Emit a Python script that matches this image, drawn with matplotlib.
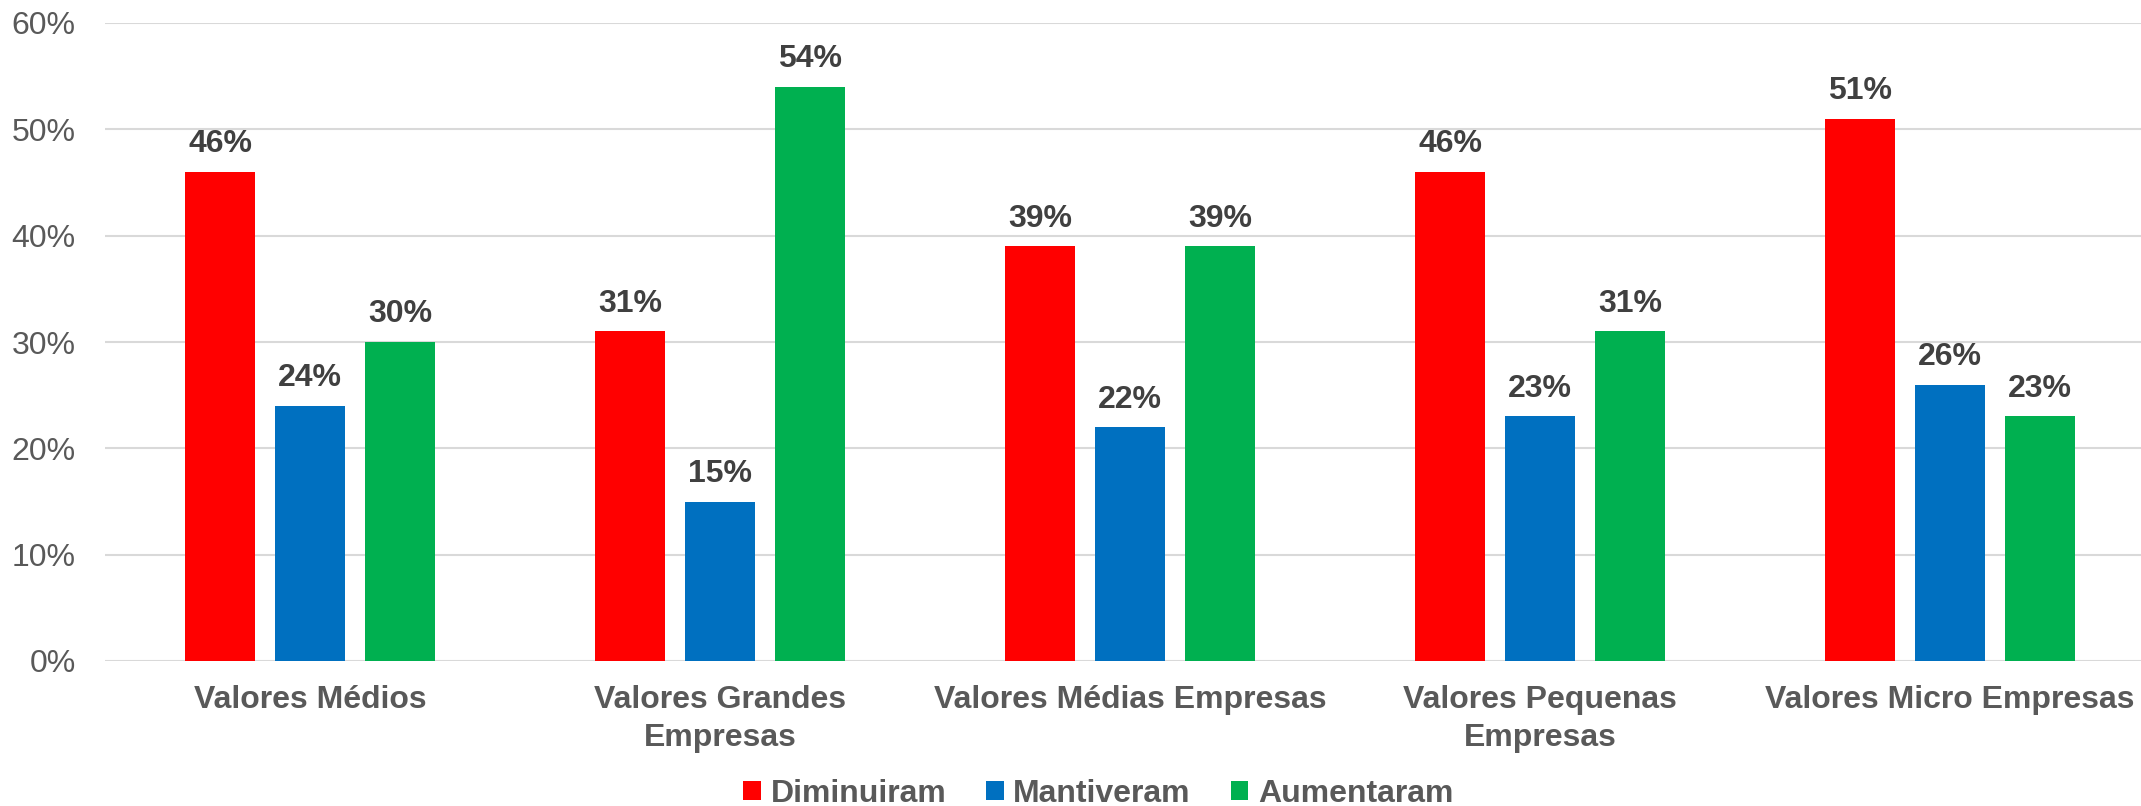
import matplotlib
matplotlib.use("Agg")
import matplotlib.pyplot as plt
import numpy as np
from matplotlib.patches import Patch

categories = ["Valores Médios", "Valores Grandes\nEmpresas", "Valores Médias Empresas",
              "Valores Pequenas\nEmpresas", "Valores Micro Empresas"]
series_names = ["Diminuiram", "Mantiveram", "Aumentaram"]
diminuiram = [46, 31, 39, 46, 51]
mantiveram = [24, 15, 22, 23, 26]
aumentaram = [30, 54, 39, 31, 23]
yticks = [0, 10, 20, 30, 40, 50, 60]

colors = ["#FF0000", "#0070C0", "#00B050"]
plt.rcParams['font.family'] = ['Liberation Sans', 'DejaVu Sans']

W, H = 2141, 806
fig = plt.figure(figsize=(W / 100, H / 100), dpi=100)
ax = fig.add_axes([105 / W, 1 - 661 / H, 1 - 105 / W, (661 - 23) / H])

x = np.arange(len(categories))
bw = 0.173
step = 0.2195
for i, (vals, c, name) in enumerate(zip([diminuiram, mantiveram, aumentaram], colors, series_names)):
    pos = x + (i - 1) * step
    bars = ax.bar(pos, vals, width=bw, color=c, label=name, zorder=3)
    for b, v in zip(bars, vals):
        ax.annotate(f"{v}%", (b.get_x() + b.get_width() / 2, v), xytext=(0, 9),
                    textcoords="offset points", ha="center", va="bottom",
                    fontsize=23, fontweight="bold", color="#404040")

ax.set_ylim(0, 60)
ax.set_xlim(-0.5, -0.5 + (W - 105) / 410)
ax.set_yticks(yticks)
ax.set_yticklabels([f"{t}%" for t in yticks], fontsize=23, color="#595959")
ax.set_xticks(x)
ax.set_xticklabels(categories, fontsize=23, fontweight="bold", color="#595959", linespacing=1.35)
ax.tick_params(axis="y", length=0, pad=21)
ax.tick_params(axis="x", length=0, pad=17)
ax.grid(axis="y", color="#D9D9D9", linewidth=1.5, zorder=0)
for s in ax.spines.values():
    s.set_visible(False)

handles = [Patch(facecolor=c, edgecolor="none") for c in colors]
leg = fig.legend(handles, series_names, loc="center", bbox_to_anchor=(0.513, 12 / H), ncol=3,
                 frameon=False, fontsize=23, handlelength=0.55, handleheight=0.55,
                 handletextpad=0.3, columnspacing=1.25, borderaxespad=0, borderpad=0)
for t in leg.get_texts():
    t.set_fontweight("bold")
    t.set_color("#595959")

fig.savefig("out.png", dpi=100)
